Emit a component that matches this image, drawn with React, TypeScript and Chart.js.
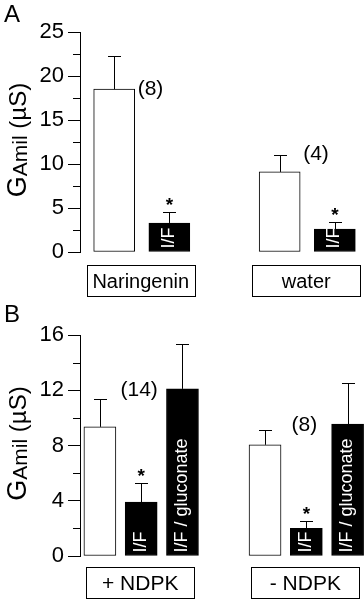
import React, { useEffect, useRef } from "react";
import { Chart, registerables } from "chart.js";

Chart.register(...registerables);

const FONT = '"Liberation Sans", Arial, Helvetica, sans-serif';

// ---------- Panel A data ----------
const groupsA = ["Naringenin", "water"];
const controlA = [18.5, 9.1];
const controlErrA = [3.8, 1.9];
const ifA = [3.3, 2.6];
const ifErrA = [1.2, 0.8];
const nA = ["(8)", "(4)"];
const yTicksA = [0, 5, 10, 15, 20, 25];

// ---------- Panel B data ----------
const groupsB = ["+ NDPK", "- NDPK"];
const controlB = [9.35, 8.05];
const controlErrB = [2.05, 1.1];
const ifB = [3.9, 2.0];
const ifErrB = [1.4, 0.5];
const glucB = [12.1, 9.55];
const glucErrB = [3.25, 2.95];
const nB = ["(14)", "(8)"];
const yTicksB = [0, 4, 8, 12, 16];

const barLabels = ["", "I/F", "I/F / gluconate"];

type Series = { values: number[]; errors: number[]; fill: string; label: string; star: boolean };
type PanelCfg = {
  letter: string;
  groups: string[];
  series: Series[];
  n: string[];
  yTicks: number[];
  xMin: number;
  xMax: number;
  barThickness: number;
  padTop: number;
  padBottom: number;
  mode: "A" | "B";
  boxGap: number;
  boxFont: number;
};

const panelA: PanelCfg = {
  letter: "A",
  groups: groupsA,
  series: [
    { values: controlA, errors: controlErrA, fill: "#ffffff", label: barLabels[0], star: false },
    { values: ifA, errors: ifErrA, fill: "#000000", label: barLabels[1], star: true },
  ],
  n: nA,
  yTicks: yTicksA,
  xMin: -0.62,
  xMax: 4.529,
  barThickness: 41,
  padTop: 32,
  padBottom: 48,
  mode: "A",
  boxGap: 13,
  boxFont: 20,
};

const panelB: PanelCfg = {
  letter: "B",
  groups: groupsB,
  series: [
    { values: controlB, errors: controlErrB, fill: "#ffffff", label: barLabels[0], star: false },
    { values: ifB, errors: ifErrB, fill: "#000000", label: barLabels[1], star: true },
    { values: glucB, errors: glucErrB, fill: "#000000", label: barLabels[2], star: false },
  ],
  n: nB,
  yTicks: yTicksB,
  xMin: -0.482,
  xMax: 6.397,
  barThickness: 32,
  padTop: 35,
  padBottom: 44,
  mode: "B",
  boxGap: 11,
  boxFont: 21,
};

function makeChart(canvas: HTMLCanvasElement, cfg: PanelCfg) {
  const S = cfg.series.length;
  const points: { x: number; y: number }[] = [];
  const fills: string[] = [];
  const info: { group: number; series: number; err: number; label: string; star: boolean; value: number }[] = [];
  cfg.groups.forEach((_g, i) => {
    cfg.series.forEach((s, k) => {
      points.push({ x: i * (S + 1) + k, y: s.values[i] });
      fills.push(s.fill);
      info.push({ group: i, series: k, err: s.errors[i], label: s.label, star: s.star, value: s.values[i] });
    });
  });

  const decor = {
    id: "decor",
    afterDatasetsDraw(chart: any) {
      const ctx: CanvasRenderingContext2D = chart.ctx;
      const ca = chart.chartArea;
      const ys = chart.scales.y;
      const meta = chart.getDatasetMeta(0);
      const els = meta.data.map((e: any) => e.getProps(["x", "y", "base", "width"], true));
      ctx.save();
      ctx.strokeStyle = "#000";
      ctx.fillStyle = "#000";
      ctx.lineWidth = 1;

      // minor ticks
      const t = cfg.yTicks;
      for (let i = 0; i < t.length - 1; i++) {
        const py = Math.round(ys.getPixelForValue((t[i] + t[i + 1]) / 2)) + 0.5;
        ctx.beginPath();
        ctx.moveTo(ca.left - 7, py);
        ctx.lineTo(ca.left, py);
        ctx.stroke();
      }

      // error bars
      els.forEach((el: any, j: number) => {
        const inf = info[j];
        const x = Math.round(el.x) + 0.5;
        const top = ys.getPixelForValue(inf.value + inf.err);
        const ty = Math.round(top) + 0.5;
        ctx.beginPath();
        ctx.moveTo(x, el.y);
        ctx.lineTo(x, ty);
        ctx.moveTo(x - 6.5, ty);
        ctx.lineTo(x + 6.5, ty);
        ctx.stroke();
        if (inf.star) {
          ctx.font = `bold 19px ${FONT}`;
          ctx.textAlign = "center";
          ctx.textBaseline = "alphabetic";
          ctx.fillText("*", el.x, top - 1);
        }
      });

      // labels inside bars
      els.forEach((el: any, j: number) => {
        const inf = info[j];
        if (!inf.label) return;
        ctx.save();
        ctx.translate(el.x, el.base - 3);
        ctx.rotate(-Math.PI / 2);
        ctx.fillStyle = "#fff";
        ctx.font = `18px ${FONT}`;
        ctx.textAlign = "left";
        ctx.textBaseline = "alphabetic";
        ctx.fillText(inf.label, 0, 4.5);
        ctx.restore();
      });

      // n labels
      ctx.font = `21px ${FONT}`;
      ctx.textBaseline = "middle";
      cfg.groups.forEach((_g, i) => {
        const c = els[i * S];
        const inf = info[i * S];
        if (cfg.mode === "A") {
          const y = i === 0 ? c.y : ys.getPixelForValue(inf.value + inf.err) - 1;
          ctx.textAlign = "left";
          ctx.fillText(cfg.n[i], c.x + c.width / 2 + 3, y);
        } else {
          const mid = els[i * S + 1];
          const last = els[i * S + 2];
          ctx.textAlign = "center";
          ctx.fillText(cfg.n[i], mid.x - 2, last.y + 1);
        }
      });

      // group boxes
      cfg.groups.forEach((g, i) => {
        let sx = 0;
        for (let k = 0; k < S; k++) sx += els[i * S + k].x;
        const cx = sx / S - 1;
        const w = 108;
        const h = 31;
        const top = ca.bottom + cfg.boxGap;
        ctx.strokeRect(Math.round(cx - w / 2) + 0.5, Math.round(top) + 0.5, w, h);
        ctx.font = `${cfg.boxFont}px ${FONT}`;
        ctx.textAlign = "center";
        ctx.textBaseline = "middle";
        ctx.fillText(g, cx, top + h / 2 + 2);
      });

      // y title with subscript
      ctx.save();
      const cy = (ca.top + ca.bottom) / 2 - 2;
      ctx.translate(26, cy);
      ctx.rotate(-Math.PI / 2);
      const parts = [
        { t: "G", size: 27, dy: 0 },
        { t: "Amil", size: 21, dy: 1 },
        { t: " (µS)", size: 24, dy: 0 },
      ];
      let total = 0;
      const widths = parts.map((p) => {
        ctx.font = `${p.size}px ${FONT}`;
        const w = ctx.measureText(p.t).width;
        total += w;
        return w;
      });
      let x = -total / 2;
      ctx.textAlign = "left";
      ctx.textBaseline = "alphabetic";
      parts.forEach((p, i) => {
        ctx.font = `${p.size}px ${FONT}`;
        ctx.fillText(p.t, x, p.dy);
        x += widths[i];
      });
      ctx.restore();

      // panel letter
      ctx.font = `24px ${FONT}`;
      ctx.textAlign = "left";
      ctx.textBaseline = "alphabetic";
      ctx.fillText(cfg.letter, 4, 22);

      ctx.restore();
    },
  };

  const yT = cfg.yTicks;
  return new Chart(canvas, {
    type: "bar",
    data: {
      datasets: [
        {
          data: points as any,
          backgroundColor: fills,
          borderColor: "#000",
          borderWidth: 1,
          borderSkipped: false,
          barThickness: cfg.barThickness,
        } as any,
      ],
    },
    options: {
      animation: false,
      responsive: false,
      devicePixelRatio: 1,
      layout: { padding: { top: cfg.padTop, bottom: cfg.padBottom, left: 0, right: 0 } },
      plugins: { legend: { display: false }, tooltip: { enabled: false } },
      scales: {
        x: { type: "linear", display: false, offset: false, min: cfg.xMin, max: cfg.xMax },
        y: {
          min: yT[0],
          max: yT[yT.length - 1],
          ticks: {
            stepSize: yT[1] - yT[0],
            color: "#000",
            padding: 4,
            font: { size: 22, family: FONT },
          },
          grid: {
            drawOnChartArea: false,
            drawTicks: true,
            tickLength: 12,
            tickColor: "#000",
            color: "#000",
            lineWidth: 1,
          },
          border: { display: true, color: "#000", width: 1 },
          afterFit(s: any) {
            s.width = 80;
            s.paddingTop = 0;
            s.paddingBottom = 0;
          },
        } as any,
      },
    } as any,
    plugins: [decor],
  });
}

function Panel({ cfg }: { cfg: PanelCfg }) {
  const ref = useRef<HTMLCanvasElement | null>(null);
  useEffect(() => {
    if (!ref.current) return;
    const ch = makeChart(ref.current, cfg);
    return () => ch.destroy();
  }, [cfg]);
  return <canvas ref={ref} width={364} height={300} style={{ display: "block", width: 364, height: 300 }} />;
}

export default function App() {
  return (
    <div style={{ position: "absolute", left: 0, top: 0, width: 364, height: 600, background: "#fff" }}>
      <Panel cfg={panelA} />
      <Panel cfg={panelB} />
    </div>
  );
}
